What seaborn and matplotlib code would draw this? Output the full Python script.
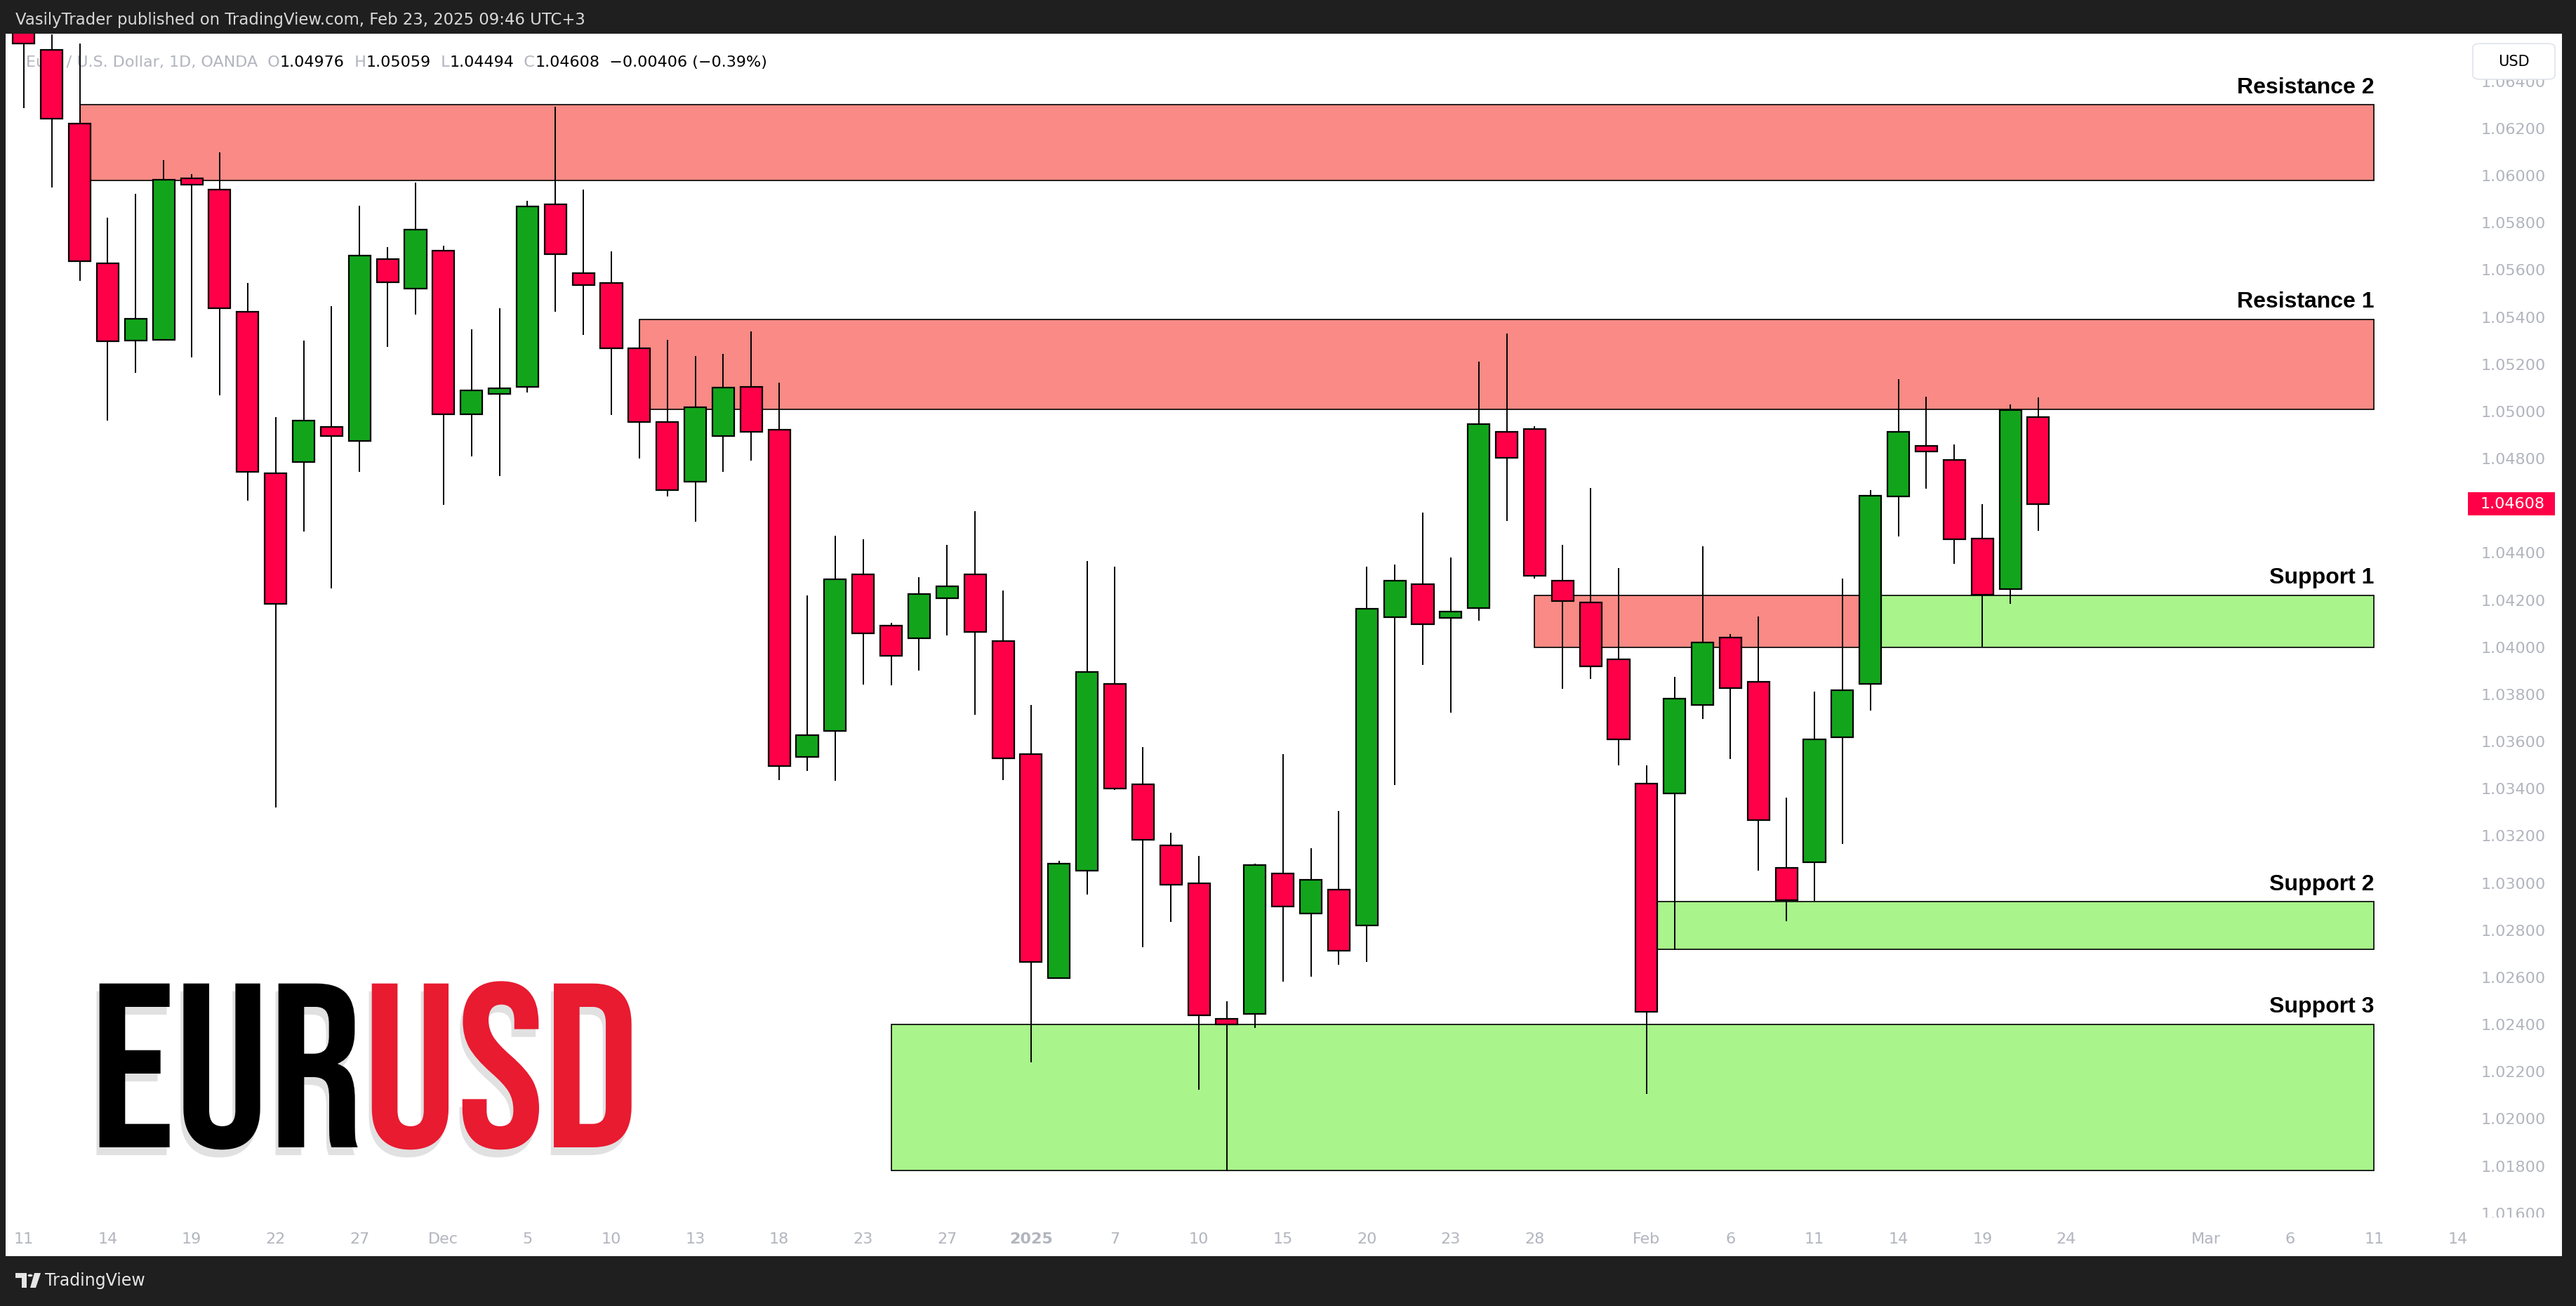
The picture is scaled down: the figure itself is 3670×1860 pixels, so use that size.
import matplotlib
matplotlib.use("Agg")
import matplotlib.pyplot as plt
import matplotlib.patheffects as pe
from matplotlib.patches import Rectangle, FancyBboxPatch, Circle, Polygon
from matplotlib.transforms import Bbox, TransformedBbox, blended_transform_factory
import numpy as np
import pandas as pd
import seaborn as sns

# daily EURUSD candles, Nov 11 2024 .. Feb 21 2025
dates = ["2024-11-11", "2024-11-12", "2024-11-13", "2024-11-14", "2024-11-15", "2024-11-18",
         "2024-11-19", "2024-11-20", "2024-11-21", "2024-11-22", "2024-11-25", "2024-11-26",
         "2024-11-27", "2024-11-28", "2024-11-29", "2024-12-02", "2024-12-03", "2024-12-04",
         "2024-12-05", "2024-12-06", "2024-12-09", "2024-12-10", "2024-12-11", "2024-12-12",
         "2024-12-13", "2024-12-16", "2024-12-17", "2024-12-18", "2024-12-19", "2024-12-20",
         "2024-12-23", "2024-12-24", "2024-12-26", "2024-12-27", "2024-12-30", "2024-12-31",
         "2025-01-02", "2025-01-03", "2025-01-06", "2025-01-07", "2025-01-08", "2025-01-09",
         "2025-01-10", "2025-01-13", "2025-01-14", "2025-01-15", "2025-01-16", "2025-01-17",
         "2025-01-20", "2025-01-21", "2025-01-22", "2025-01-23", "2025-01-24", "2025-01-27",
         "2025-01-28", "2025-01-29", "2025-01-30", "2025-01-31", "2025-02-03", "2025-02-04",
         "2025-02-05", "2025-02-06", "2025-02-07", "2025-02-10", "2025-02-11", "2025-02-12",
         "2025-02-13", "2025-02-14", "2025-02-17", "2025-02-18", "2025-02-19", "2025-02-20",
         "2025-02-21"]
opens = [1.0675, 1.06532, 1.06220, 1.05628, 1.05299, 1.05303, 1.05987, 1.05941, 1.05422, 1.04738,
         1.04784, 1.04934, 1.04874, 1.05645, 1.05522, 1.05682, 1.04987, 1.05073, 1.05103, 1.05878,
         1.05585, 1.05545, 1.05269, 1.04954, 1.04701, 1.04894, 1.05103, 1.04921, 1.03535, 1.03644,
         1.04309, 1.04090, 1.04037, 1.04209, 1.04309, 1.04027, 1.03545, 1.02598, 1.03053, 1.03844,
         1.03418, 1.03159, 1.03000, 1.02425, 1.02445, 1.03040, 1.02870, 1.02973, 1.02820, 1.04126,
         1.04266, 1.04123, 1.04166, 1.04914, 1.04924, 1.04283, 1.04189, 1.03947, 1.03422, 1.03379,
         1.03754, 1.04040, 1.03854, 1.03063, 1.03089, 1.03618, 1.03844, 1.04638, 1.04854, 1.04794,
         1.04462, 1.04246, 1.04976]
highs = [1.0680, 1.0660, 1.06559, 1.05821, 1.05924, 1.06067, 1.06007, 1.06097, 1.05545, 1.04977,
         1.05299, 1.05446, 1.05871, 1.05695, 1.05971, 1.05702, 1.05349, 1.05436, 1.05894, 1.06293,
         1.05941, 1.05678, 1.05389, 1.05303, 1.05236, 1.05243, 1.05339, 1.05123, 1.04219, 1.04472,
         1.04459, 1.04103, 1.04296, 1.04435, 1.04578, 1.04239, 1.03754, 1.03093, 1.04366, 1.04342,
         1.03575, 1.03212, 1.03116, 1.02498, 1.03083, 1.03545, 1.03146, 1.03305, 1.04342, 1.04349,
         1.04572, 1.04379, 1.05210, 1.05329, 1.04937, 1.04435, 1.04675, 1.04336, 1.03498, 1.03874,
         1.04429, 1.04057, 1.04130, 1.03362, 1.03811, 1.04292, 1.04665, 1.05137, 1.05063, 1.04861,
         1.04608, 1.05030, 1.05059]
lows = [1.06286, 1.05951, 1.05555, 1.04960, 1.05163, 1.05300, 1.05230, 1.05067, 1.04621, 1.03319,
        1.04489, 1.04249, 1.04744, 1.05273, 1.05412, 1.04605, 1.04808, 1.04725, 1.05080, 1.05422,
        1.05323, 1.04984, 1.04801, 1.04638, 1.04532, 1.04744, 1.04791, 1.03435, 1.03475, 1.03432,
        1.03840, 1.03837, 1.03900, 1.04050, 1.03714, 1.03435, 1.02239, 1.02598, 1.02950, 1.03395,
        1.02727, 1.02834, 1.02122, 1.01777, 1.02385, 1.02581, 1.02604, 1.02654, 1.02664, 1.03415,
        1.03924, 1.03721, 1.04113, 1.04535, 1.04290, 1.03824, 1.03864, 1.03498, 1.02106, 1.02717,
        1.03694, 1.03525, 1.03053, 1.02837, 1.02923, 1.03166, 1.03731, 1.04469, 1.04671, 1.04352,
        1.04003, 1.04183, 1.04494]
closes = [1.06559, 1.06240, 1.05638, 1.05296, 1.05392, 1.05981, 1.05961, 1.05436, 1.04744, 1.04183,
          1.04960, 1.04894, 1.05662, 1.05549, 1.05771, 1.04987, 1.05090, 1.05097, 1.05868, 1.05668,
          1.05535, 1.05269, 1.04954, 1.04665, 1.05017, 1.05100, 1.04914, 1.03495, 1.03628, 1.04289,
          1.04060, 1.03963, 1.04226, 1.04259, 1.04066, 1.03528, 1.02664, 1.03083, 1.03894, 1.03402,
          1.03182, 1.02993, 1.02438, 1.02401, 1.03076, 1.02900, 1.03013, 1.02714, 1.04163, 1.04283,
          1.04096, 1.04150, 1.04947, 1.04804, 1.04302, 1.04196, 1.03920, 1.03608, 1.02455, 1.03781,
          1.04020, 1.03827, 1.03266, 1.02927, 1.03608, 1.03817, 1.04641, 1.04914, 1.04831, 1.04459,
          1.04223, 1.05007, 1.04608]

# time axis (bar index -> label)
tick_pos = [0, 3, 6, 9, 12, 15, 18, 21, 24, 27, 30, 33, 36, 39, 42, 45, 48, 51, 54,
            58, 61, 64, 67, 70, 73, 78, 81, 84, 87]
tick_labels = ["11", "14", "19", "22", "27", "Dec", "5", "10", "13", "18", "23", "27", "2025",
               "7", "10", "15", "20", "23", "28", "Feb", "6", "11", "14", "19", "24", "Mar",
               "6", "11", "14"]
price_ticks = [1.016, 1.018, 1.020, 1.022, 1.024, 1.026, 1.028, 1.030, 1.032, 1.034, 1.036,
               1.038, 1.040, 1.042, 1.044, 1.046, 1.048, 1.050, 1.052, 1.054, 1.056, 1.058,
               1.060, 1.062, 1.064]

# zones drawn on the chart
zone_names = ["Resistance 2", "Resistance 1", "", "Support 1", "Support 2", "Support 3"]
zone_start = [2, 22, 54, 66, 58, 31]
zone_end = [84, 84, 66, 84, 84, 84]
zone_low = [1.0598, 1.0501, 1.0400, 1.0400, 1.0272, 1.0178]
zone_high = [1.0630, 1.0539, 1.0422, 1.0422, 1.0292, 1.0240]
zone_kind = ["res", "res", "res", "sup", "sup", "sup"]

W, H = 3670, 1860
RED = "#FF0048"
GREEN = "#12A51C"
GRAY = "#B2B5BE"
DARK = "#1F1F1F"

sns.set_theme(style="white")
plt.rcParams['font.family'] = ['DejaVu Sans']

df = pd.DataFrame({'date': dates, 'open': opens, 'high': highs, 'low': lows, 'close': closes})
df['x'] = np.arange(len(df))
df['up'] = df['close'] >= df['open']

fig = plt.figure(figsize=(W / 100, H / 100), dpi=100, facecolor='white')
ax = fig.add_axes([8 / W, 1 - 1737 / H, 3503 / W, 1689 / H])
ax.set_facecolor('white')
ax.set_xlim(-0.65, 87.23)
ax.set_ylim(1.015722, 1.066017)
sns.despine(ax=ax, left=True, bottom=True)

# zones
zone_fill = {'res': '#F98A85', 'sup': '#A9F48B'}
for name, x0, x1, lo, hi, kind in zip(zone_names, zone_start, zone_end, zone_low, zone_high, zone_kind):
    ax.add_patch(Rectangle((x0, lo), x1 - x0, hi - lo, facecolor=zone_fill[kind],
                           edgecolor='black', lw=1.2, zorder=2))
    if name:
        ax.annotate(name, xy=(x1, hi), xytext=(0, 7), textcoords='offset points',
                    ha='right', va='bottom', fontsize=23, fontweight='bold',
                    family=['Liberation Sans', 'DejaVu Sans'], color='black', zorder=5)

# candles
body_lo = df[['open', 'close']].min(axis=1)
body_h = (df['close'] - df['open']).abs()
ax.vlines(df['x'], df['low'], df['high'], color='black', lw=1.4, zorder=3)
ax.bar(df['x'], body_h, bottom=body_lo, width=0.78,
       color=np.where(df['up'], GREEN, RED), edgecolor='black', linewidth=1.6, zorder=4)

# price scale
ax.yaxis.tick_right()
ax.set_yticks(price_ticks)
ax.set_yticklabels([f'{p:.5f}' for p in price_ticks])
ax.tick_params(axis='y', length=0, pad=17, labelsize=16, labelcolor=GRAY)
clip = TransformedBbox(Bbox([[0, 1 - 1734 / H], [1, 1 - 48 / H]]), fig.transFigure)
for lab in ax.get_yticklabels():
    lab.set_clip_box(clip)
    lab.set_clip_on(True)

# time scale
ax.set_xticks(tick_pos)
ax.set_xticklabels(tick_labels)
ax.tick_params(axis='x', length=0, pad=13, labelsize=16, labelcolor=GRAY)
for lab in ax.get_xticklabels():
    if lab.get_text() == "2025":
        lab.set_fontweight('bold')

# legend line
pieces = [("Euro / U.S. Dollar, 1D, OANDA", GRAY), ("  O", GRAY), ("1.04976", "black"),
          ("  H", GRAY), ("1.05059", "black"), ("  L", GRAY), ("1.04494", "black"),
          ("  C", GRAY), ("1.04608", "black"), ("  \u22120.00406 (\u22120.39%)", "black")]
prev = ax.text(37 / W, 1 - 99 / H, pieces[0][0], transform=fig.transFigure, color=pieces[0][1],
               fontsize=16, va='bottom', ha='left', zorder=1)
for s, c in pieces[1:]:
    prev = ax.annotate(s, xy=(1, 0), xycoords=prev, va='bottom', ha='left', color=c,
                       fontsize=16, zorder=1)

# last price tag
last_close = closes[-1]
bt = blended_transform_factory(fig.transFigure, ax.transData)
ph = 33 / 33582
fig.add_artist(Rectangle((3516 / W, last_close - ph / 2), 124 / W, ph, transform=bt,
                         facecolor=RED, edgecolor='none', zorder=6))
fig.text(3534 / W, last_close, f'{last_close:.5f}', transform=bt, color='white',
         fontsize=16, va='center', ha='left', zorder=7)

# big pair logo
logo_font = ['Bebas Neue', 'Oswald', 'Roboto Condensed', 'DejaVu Sans']
shadow = [pe.SimplePatchShadow(offset=(-3, -8), shadow_rgbFace='#8a8a8a', alpha=0.25), pe.Normal()]
t1 = ax.text(128 / W, 1 - 1634 / H, "EUR", transform=fig.transFigure, fontsize=240,
             family=logo_font, color='black', va='baseline', ha='left',
             path_effects=shadow, zorder=6)
ax.annotate("USD", xy=(1, 0), xycoords=t1, va='bottom', ha='left', fontsize=240,
            family=logo_font, color='#E81B30', path_effects=shadow, zorder=6)

# TradingView frame
fig.add_artist(Rectangle((0, 1 - 48 / H), 1, 48 / H, transform=fig.transFigure,
                         facecolor=DARK, edgecolor='none', zorder=10))
fig.add_artist(Rectangle((0, 0), 1, (H - 1789) / H, transform=fig.transFigure,
                         facecolor=DARK, edgecolor='none', zorder=10))
fig.add_artist(Rectangle((0, 0), 8 / W, 1, transform=fig.transFigure,
                         facecolor=DARK, edgecolor='none', zorder=10))
fig.add_artist(Rectangle((3650 / W, 0), 1, 1, transform=fig.transFigure,
                         facecolor=DARK, edgecolor='none', zorder=10))
fig.text(22 / W, 1 - 28 / H, "VasilyTrader published on TradingView.com, Feb 23, 2025 09:46 UTC+3",
         color='#D9D9D9', fontsize=16.4, va='center', ha='left', zorder=11)

# USD button
fig.add_artist(FancyBboxPatch((3523 / W, 1 - 113 / H), 117 / W, 51 / H,
                              boxstyle='round,pad=0,rounding_size=0.003',
                              transform=fig.transFigure, facecolor='white',
                              edgecolor='#E0E3EB', lw=1.2, zorder=11))
fig.text(3581 / W, 1 - 88 / H, "USD", color='black', fontsize=15, va='center', ha='center', zorder=12)

# footer logo
fig.add_artist(Polygon([(22 / W, 1 - 1813 / H), (38 / W, 1 - 1813 / H), (38 / W, 1 - 1834 / H),
                        (31 / W, 1 - 1834 / H), (31 / W, 1 - 1820 / H), (22 / W, 1 - 1820 / H)],
                       closed=True, transform=fig.transFigure, facecolor='#E6E6E6',
                       edgecolor='none', zorder=11))
fig.add_artist(Circle((43 / W, 1 - 1816.5 / H), 3.5 / W, transform=fig.transFigure,
                      facecolor='#E6E6E6', edgecolor='none', zorder=11))
fig.add_artist(Polygon([(49 / W, 1 - 1813 / H), (58 / W, 1 - 1813 / H), (51 / W, 1 - 1834 / H),
                        (43 / W, 1 - 1834 / H)], closed=True, transform=fig.transFigure,
                       facecolor='#E6E6E6', edgecolor='none', zorder=11))
fig.text(64 / W, 1 - 1824 / H, "TradingView", color='#E6E6E6', fontsize=17,
         va='center', ha='left', zorder=11)

fig.savefig("out.png", dpi=100, facecolor=fig.get_facecolor())
